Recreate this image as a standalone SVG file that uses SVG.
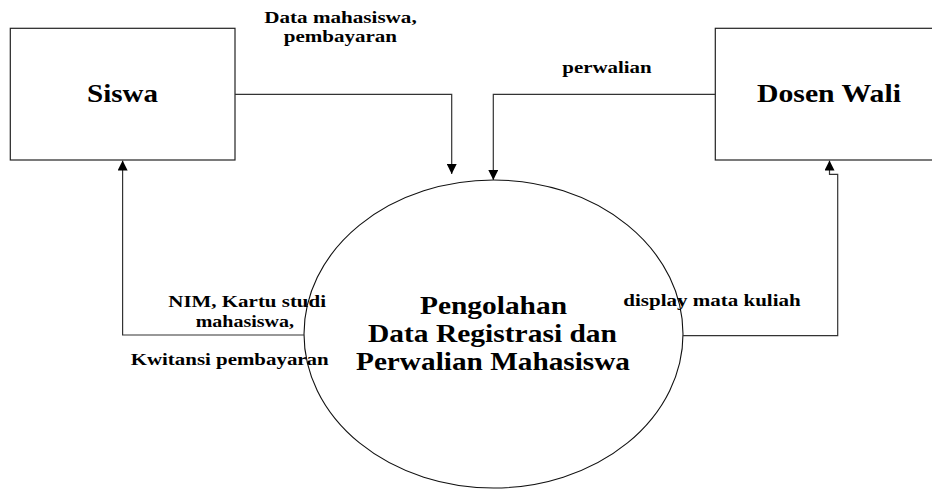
<svg xmlns="http://www.w3.org/2000/svg" width="932" height="490" viewBox="0 0 932 490">
<style>
  .box { fill: #fff; stroke: #222; stroke-width: 1.2; }
  .proc { fill: none; stroke: #111; stroke-width: 1.1; }
  .flow { fill: none; stroke: #333; stroke-width: 1.2; }
  .t { font-family: "Liberation Serif", "Times New Roman", serif; font-weight: bold; fill: #000; }
  .big { font-size: 26px; }
  .sm { font-size: 17px; }
</style>
<defs>
  <marker id="arr" viewBox="0 0 10 10" refX="10" refY="5" markerWidth="10" markerHeight="10" markerUnits="userSpaceOnUse" orient="auto">
    <path d="M0,0 L10,5 L0,10 Z" fill="#000"/>
  </marker>
</defs>
<rect width="932" height="490" fill="#fff"/>
<g id="siswa">
  <rect class="box" x="10.3" y="28.3" width="224.7" height="131.7"/>
  <text class="t big" x="87" y="102" textLength="71" lengthAdjust="spacingAndGlyphs">Siswa</text>
</g>
<g id="dosen-wali">
  <rect class="box" x="715.3" y="28.3" width="230" height="131.7"/>
  <text class="t big" x="757" y="102" textLength="144" lengthAdjust="spacingAndGlyphs">Dosen Wali</text>
</g>
<g id="proses">
  <ellipse class="proc" cx="493.5" cy="334" rx="189.5" ry="154"/>
  <text class="t big" x="420" y="314" textLength="147" lengthAdjust="spacingAndGlyphs">Pengolahan</text>
  <text class="t big" x="368" y="342" textLength="249" lengthAdjust="spacingAndGlyphs">Data Registrasi dan</text>
  <text class="t big" x="356" y="370" textLength="274" lengthAdjust="spacingAndGlyphs">Perwalian Mahasiswa</text>
</g>
<g id="connectors">
  <polyline class="flow" points="235,94.3 451.7,94.3 451.7,174" marker-end="url(#arr)"/>
  <polyline class="flow" points="715.3,94.3 493.3,94.3 493.3,180" marker-end="url(#arr)"/>
  <polyline class="flow" points="304,335 122.6,335 122.6,160.5" marker-end="url(#arr)"/>
  <polyline class="flow" points="683,335.7 837.7,335.7 837.7,174.3 829.5,174.3 829.5,160.5" marker-end="url(#arr)"/>
</g>
<g id="labels">
  <text class="t sm" x="264.3" y="23.3" textLength="152.4" lengthAdjust="spacingAndGlyphs">Data mahasiswa,</text>
  <text class="t sm" x="283.7" y="42" textLength="113.3" lengthAdjust="spacingAndGlyphs">pembayaran</text>
  <text class="t sm" x="562.3" y="73.3" textLength="89.4" lengthAdjust="spacingAndGlyphs">perwalian</text>
  <text class="t sm" x="168.3" y="306.7" textLength="157.7" lengthAdjust="spacingAndGlyphs">NIM, Kartu studi</text>
  <text class="t sm" x="195.7" y="326.7" textLength="98.3" lengthAdjust="spacingAndGlyphs">mahasiswa,</text>
  <text class="t sm" x="130.7" y="365" textLength="198" lengthAdjust="spacingAndGlyphs">Kwitansi pembayaran</text>
  <text class="t sm" x="623.3" y="306" textLength="177.4" lengthAdjust="spacingAndGlyphs">display mata kuliah</text>
</g>
</svg>
